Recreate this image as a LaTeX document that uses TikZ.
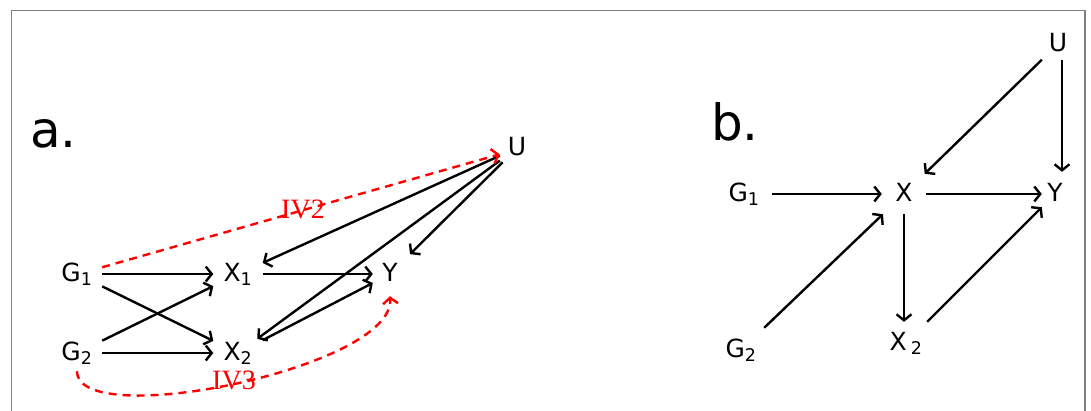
\documentclass[tikz,border=0pt]{standalone}
\usepackage{fontspec}
\setmainfont{DejaVu Sans}
\newfontfamily\ivfont{Liberation Serif}
\usetikzlibrary{arrows.meta}
\begin{document}
\begin{tikzpicture}[x=1pt,y=-1pt,
  vtx/.style={font=\fontsize{25}{30}\selectfont, inner sep=0pt, text height=18pt, text depth=4pt},
  tip/.tip={Straight Barb[length=6pt,width=15pt,line width=2.4pt]},
  arr/.style={line width=2.4pt, -tip},
  iv/.style={red, line width=2.4pt, dash pattern=on 8pt off 6pt, -tip},
  ivlab/.style={red, inner sep=0pt, font=\ivfont\fontsize{28}{30}\selectfont},
  panel/.style={inner sep=0pt, anchor=base west, font=\fontsize{50}{60}\selectfont}
]
\useasboundingbox (0,0) rectangle (1091,410);
\draw[line width=1.5pt, color=black!50] (11.5,430) -- (11.5,10.5) -- (1085,10.5) -- (1085,430);

% panel a
\node[panel] (la) at (30,147) {a.};
\node[vtx, minimum width=50pt, minimum height=28pt] (G1) at (77,274) {G\textsubscript{1}};
\node[vtx, minimum width=50pt, minimum height=28pt] (G2) at (77,353) {G\textsubscript{2}};
\node[vtx, minimum width=49pt, minimum height=28pt] (X1) at (238,274) {X\textsubscript{1}};
\node[vtx, minimum width=49pt, minimum height=28pt] (X2) at (238,353) {X\textsubscript{2}};
\node[vtx, minimum width=34pt, minimum height=28pt] (Y) at (390,274) {Y};
\node[vtx, minimum width=34pt, minimum height=28pt] (U) at (517,148) {U};

\draw[arr] (G1) -- (X1);
\draw[arr] (G1) -- (X2);
\draw[arr] (G2) -- (X1);
\draw[arr] (G2) -- (X2);
\draw[arr] (X1) -- (Y);
\draw[arr] (X2) -- (Y);
\draw[arr] (U) -- (X1);
\draw[arr] (U) -- (X2);
\draw[arr, shorten >=8pt] (U) -- (Y);

\draw[iv] (G1.15) -- (U.200);
\node[ivlab] (iv2) at (303,209) {IV2};
\draw[iv] ([yshift=-4pt]G2.south) .. controls (77,432) and (395,368) .. ([yshift=-8pt]Y.south);
\node[ivlab] (iv3) at (234,380) {IV3};

% panel b
\node[panel] (lb) at (711,140) {b.};
\node[vtx, minimum width=56pt, minimum height=40pt] (bG1) at (744,194) {G\textsubscript{1}};
\node[vtx, minimum width=52pt, minimum height=44pt] (bG2) at (741,350) {G\textsubscript{2}};
\node[vtx, minimum width=44pt, minimum height=40pt] (bX) at (904,194) {X};
\node[vtx, minimum width=26pt, minimum height=44pt] (bY) at (1055,194) {Y};
\node[vtx, minimum width=32pt, minimum height=32pt] (bU) at (1058,44) {U};
\node[vtx, minimum width=44pt, minimum height=42pt] (bX2) at (906,343) {X\hspace{4pt}\textsubscript{2}};

\draw[arr] (bG1) -- (bX);
\draw[arr] (bX) -- (bY);
\draw[arr] (bU) -- (bX);
\draw[arr] ([xshift=4pt]bU.south) -- ([xshift=4pt]bU.south |- bY.north);
\draw[arr] (bG2) -- (bX);
\draw[arr] (bX.south) -- (bX.south |- bX2.north);
\draw[arr] (bX2) -- (bY);
\end{tikzpicture}
\end{document}
